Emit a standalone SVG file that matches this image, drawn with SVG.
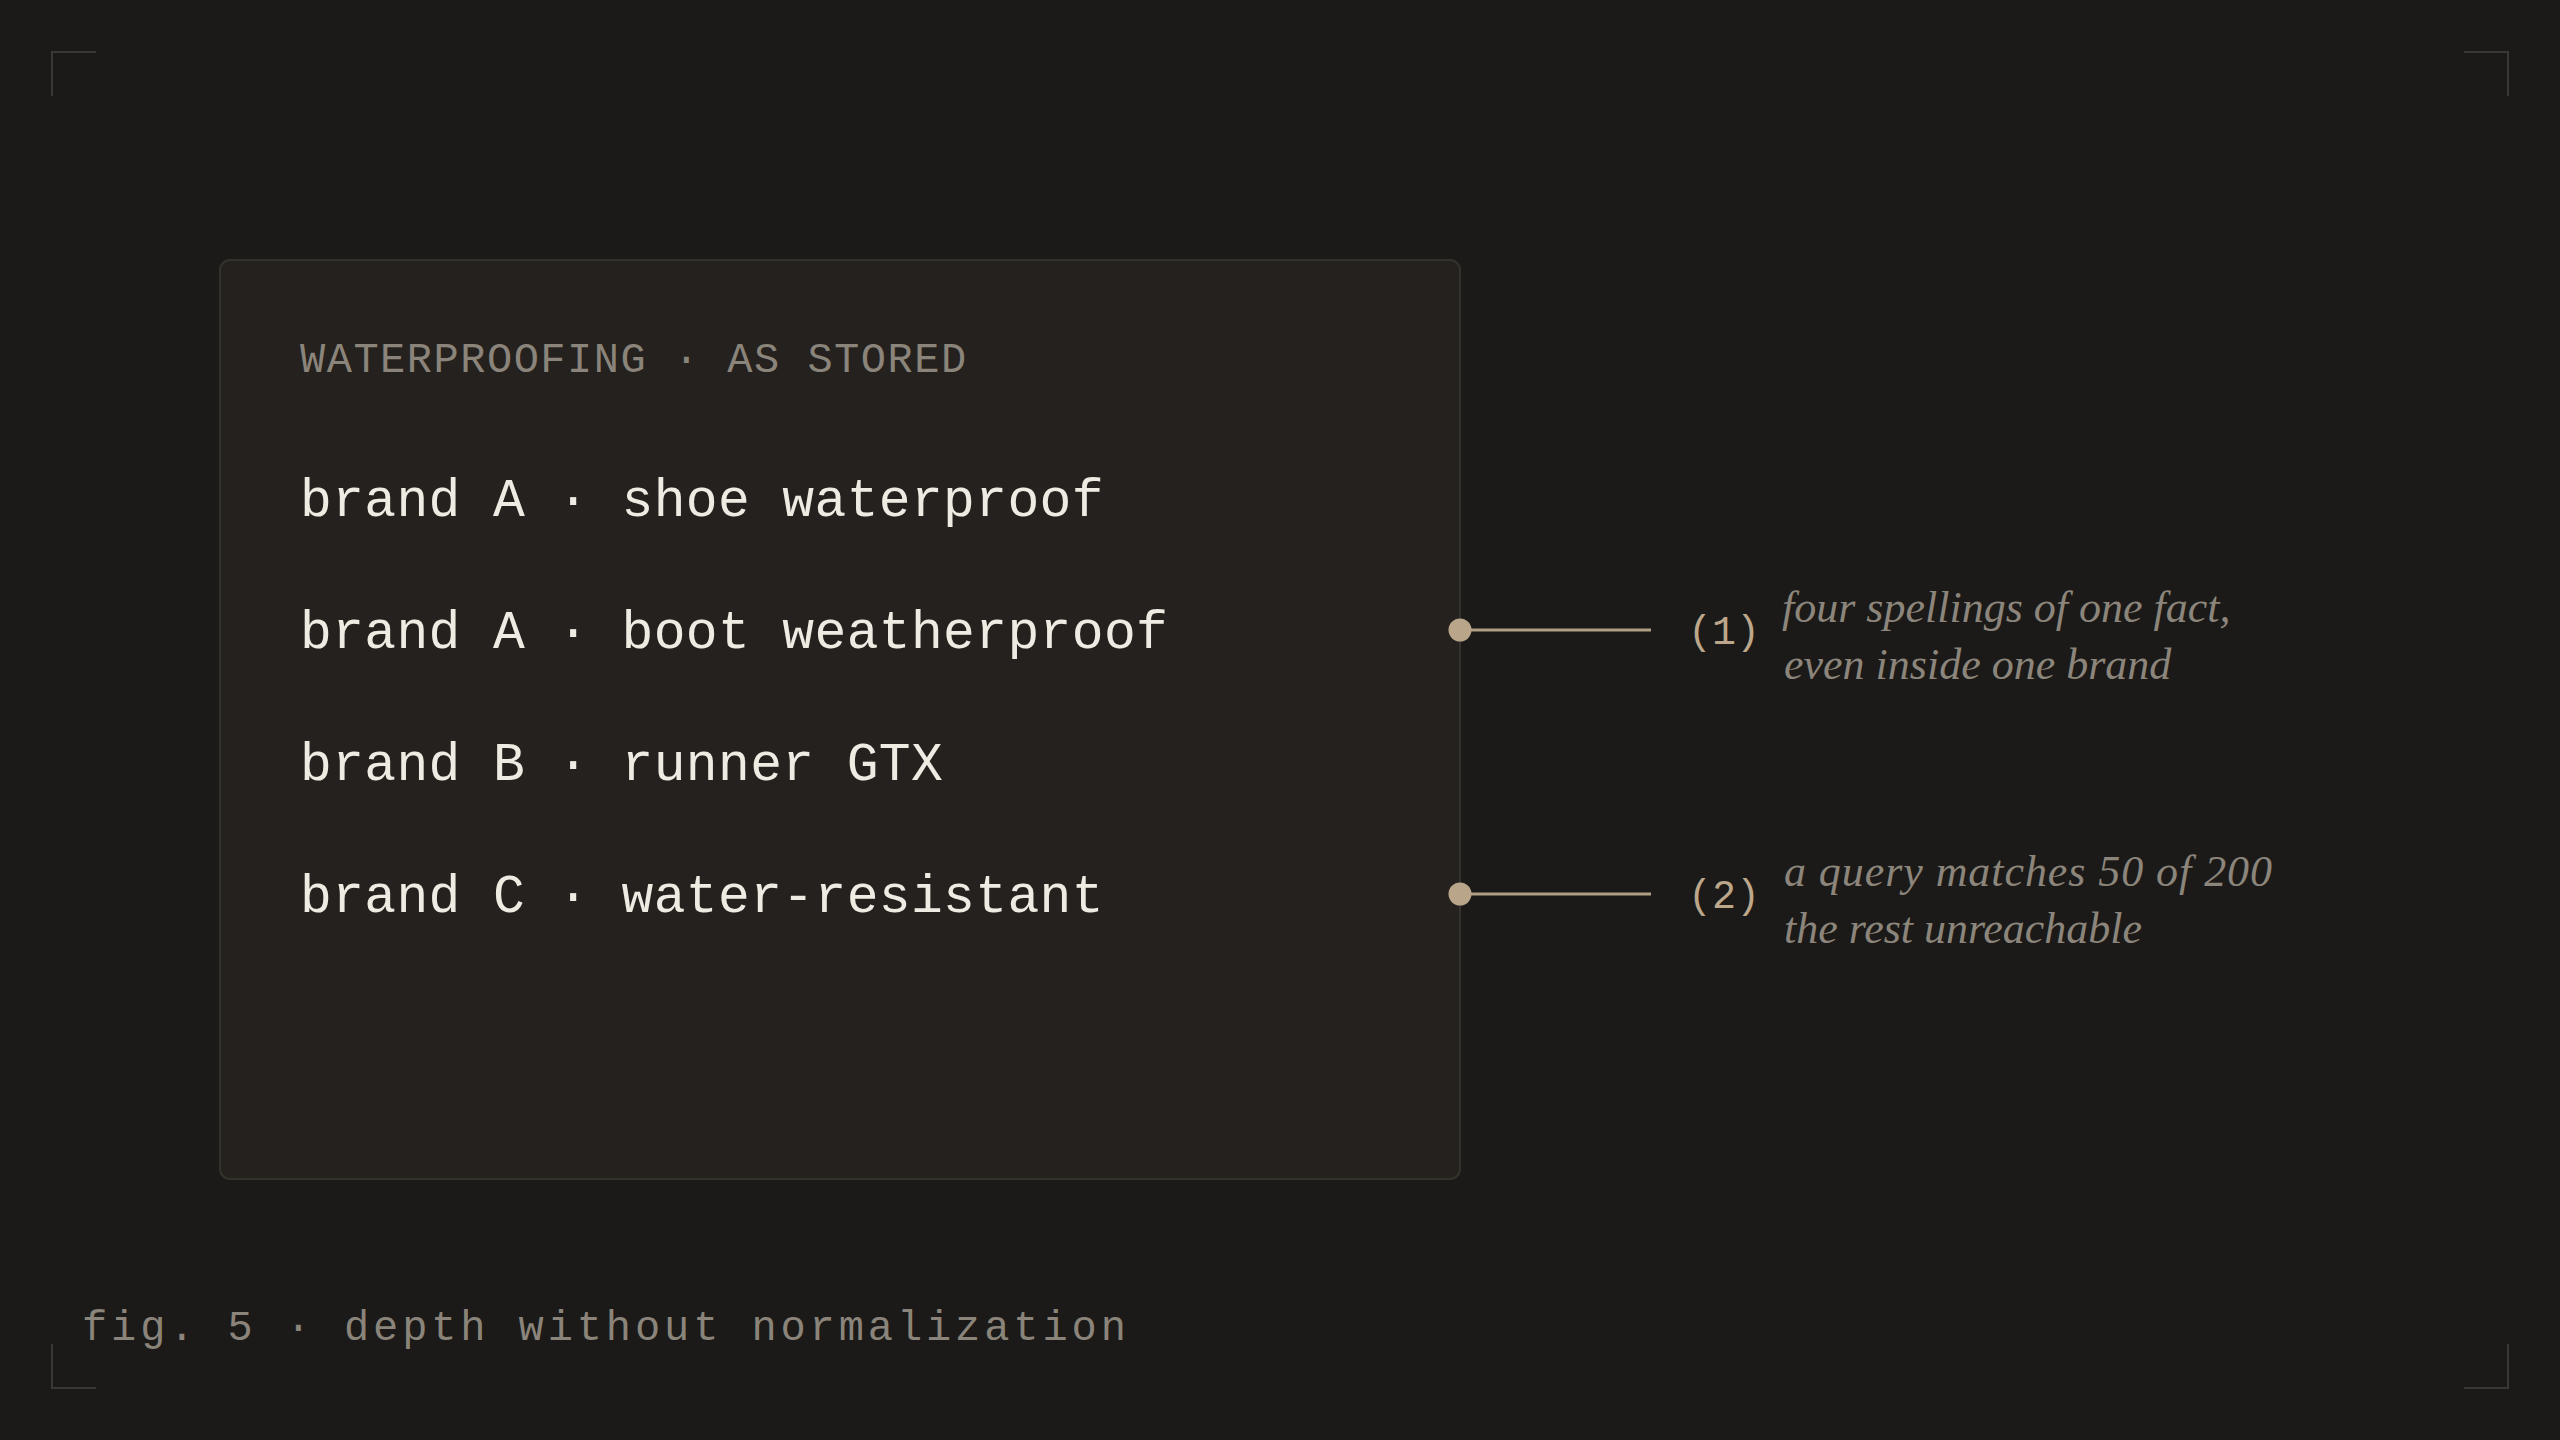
<svg xmlns="http://www.w3.org/2000/svg" width="2560" height="1440" viewBox="0 0 2560 1440">
<style>
.mono{font-family:"Liberation Mono","DejaVu Sans Mono",monospace}
.title{font-size:42px;fill:#8a847a;letter-spacing:1.5px}
.row{font-size:53px;fill:#efebe3;letter-spacing:0.35px}
.num{font-size:40px;fill:#bca78b}
.note{font-family:"Liberation Serif","DejaVu Serif",serif;font-style:italic;font-size:44px;fill:#8c857b}
.cap{font-size:42px;fill:#8a847a;letter-spacing:3.9px}
.corner{fill:none;stroke:#3b3833;stroke-width:2}
.lead{stroke:#b29e83;stroke-width:3;fill:none}
.dot{fill:#b8a58a}
</style>
<rect width="2560" height="1440" fill="#1b1a18"/>
<g id="corners">
<path class="corner" d="M52 96V52H96"/>
<path class="corner" d="M2464 52H2508V96"/>
<path class="corner" d="M52 1344V1388H96"/>
<path class="corner" d="M2464 1388H2508V1344"/>
</g>
<g id="panel">
<rect x="220" y="260" width="1240" height="919" rx="10" fill="#24211e" stroke="#35322d" stroke-width="2"/>
<text class="mono title" x="300" y="372">WATERPROOFING · AS STORED</text>
<text class="mono row" x="300" y="516">brand A · shoe waterproof</text>
<text class="mono row" x="300" y="648">brand A · boot weatherproof</text>
<text class="mono row" x="300" y="780">brand B · runner GTX</text>
<text class="mono row" x="300" y="912">brand C · water-resistant</text>
</g>
<g id="connectors">
<line class="lead" x1="1460" y1="630" x2="1651" y2="630"/>
<circle class="dot" cx="1460" cy="630" r="11.5"/>
<line class="lead" x1="1460" y1="894" x2="1651" y2="894"/>
<circle class="dot" cx="1460" cy="894" r="11.5"/>
</g>
<g id="note1">
<text class="mono num" x="1688" y="644">(1)</text>
<text class="note" x="1782" y="622">four spellings of one fact,</text>
<text class="note" x="1784" y="679">even inside one brand</text>
</g>
<g id="note2">
<text class="mono num" x="1688" y="908">(2)</text>
<text class="note" x="1784" y="886" textLength="488">a query matches 50 of 200</text>
<text class="note" x="1784" y="943" textLength="358">the rest unreachable</text>
</g>
<g id="caption">
<text class="mono cap" x="82" y="1340">fig. 5 · depth without normalization</text>
</g>
</svg>
